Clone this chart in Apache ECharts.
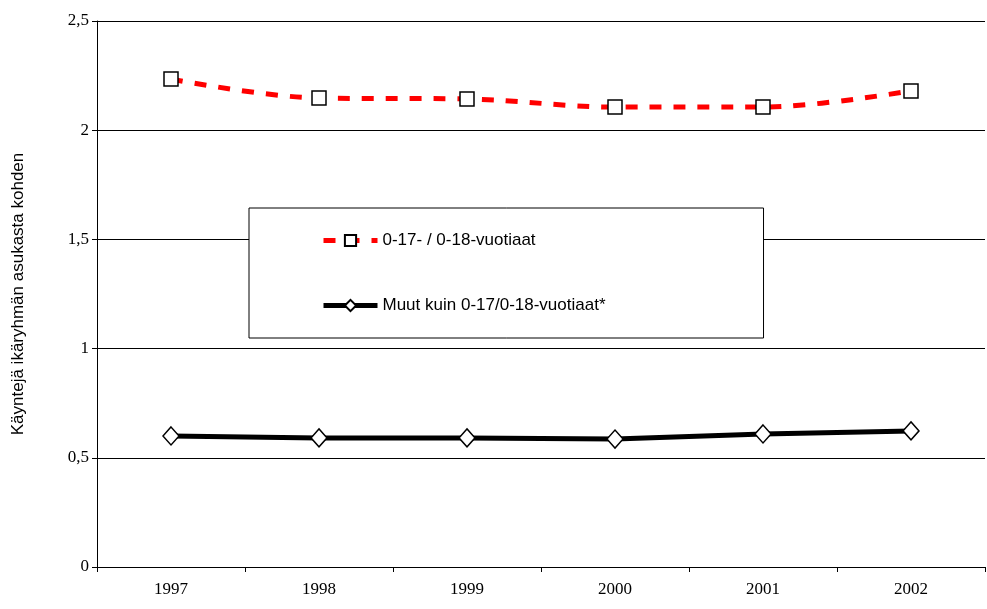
<!DOCTYPE html>
<html>
<head>
<meta charset="UTF-8">
<script src="https://cdn.jsdelivr.net/npm/echarts@6/dist/echarts.min.js"></script>
</head>
<body style="margin:0;background:#fff">
<div id="chart" style="width:987px;height:609px;"></div>
<script>
const years = ['1997', '1998', '1999', '2000', '2001', '2002'];
const youth = [2.234, 2.147, 2.143, 2.106, 2.106, 2.18];
const others = [0.6, 0.591, 0.591, 0.586, 0.609, 0.623];
const yTicks = ['0', '0,5', '1', '1,5', '2', '2,5'];

const chart = echarts.init(document.getElementById('chart'));
chart.setOption({
    animation: false,
    grid: { left: 97, right: 2, top: 21, bottom: 42 },
    legend: {
        left: 249, top: 208,
        orient: 'vertical',
        padding: [24, 158, 24, 72],
        itemGap: 48,
        itemWidth: 54, itemHeight: 14,
        backgroundColor: '#fff',
        borderColor: '#000', borderWidth: 1,
        textStyle: { fontFamily: 'Liberation Sans, Arial', fontSize: 17, color: '#000' },
        data: [
            { name: '0-17- / 0-18-vuotiaat', lineStyle: { width: 5 } },
            { name: 'Muut kuin 0-17/0-18-vuotiaat*', lineStyle: { width: 5 } }
        ]
    },
    xAxis: {
        type: 'category', data: years, boundaryGap: true,
        axisLine: { lineStyle: { color: '#000' } },
        axisTick: { show: true, lineStyle: { color: '#000' } },
        axisLabel: { color: '#000', fontFamily: 'Liberation Serif, Times New Roman', fontSize: 17, margin: 14 }
    },
    yAxis: {
        type: 'value', min: 0, max: 2.5, interval: 0.5,
        name: 'Käyntejä ikäryhmän asukasta kohden',
        nameLocation: 'middle', nameGap: 70,
        nameTextStyle: { fontFamily: 'Liberation Sans, Arial', fontSize: 17, color: '#000' },
        axisLine: { show: true, lineStyle: { color: '#000' } },
        axisTick: { show: true, lineStyle: { color: '#000' } },
        splitLine: { lineStyle: { color: '#000' } },
        axisLabel: {
            color: '#000', fontFamily: 'Liberation Serif, Times New Roman', fontSize: 17,
            formatter: v => yTicks[Math.round(v / 0.5)]
        }
    },
    series: [
        {
            name: '0-17- / 0-18-vuotiaat', type: 'line', data: youth, smooth: 0.35,
            symbol: 'rect', symbolSize: 14,
            lineStyle: { color: '#ff0000', width: 5, type: [12, 12] },
            itemStyle: { color: '#fff', borderColor: '#000', borderWidth: 1.5 },
            z: 3
        },
        {
            name: 'Muut kuin 0-17/0-18-vuotiaat*', type: 'line', data: others,
            symbol: 'diamond', symbolSize: [16, 18],
            lineStyle: { color: '#000', width: 5 },
            itemStyle: { color: '#fff', borderColor: '#000', borderWidth: 1.5 },
            z: 3
        }
    ]
});
</script>
</body>
</html>
